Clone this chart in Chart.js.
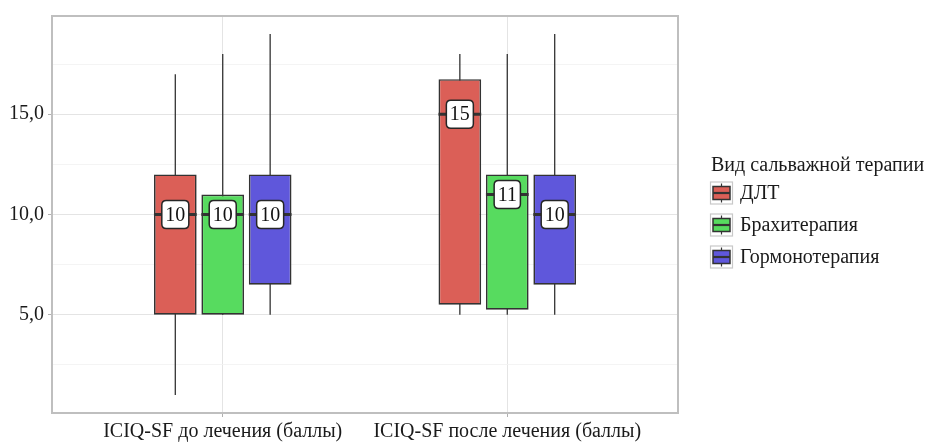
<!DOCTYPE html>
<html>
<head>
<meta charset="utf-8">
<script src="https://cdn.jsdelivr.net/npm/chart.js@4/dist/chart.umd.min.js"></script>
<style>
  html, body { margin: 0; padding: 0; background: #ffffff; }
  #wrap { width: 926px; height: 442px; position: relative; }
</style>
</head>
<body>
<div id="wrap"><canvas id="chart"></canvas></div>
<script>
// Categories (x positions 1 and 2 on a linear axis)
const categories = ['ICIQ-SF до лечения (баллы)', 'ICIQ-SF после лечения (баллы)'];
const groupNames = ['ДЛТ', 'Брахитерапия', 'Гормонотерапия'];
const groupColors = ['#DB5F57', '#57DB5F', '#5F57DB'];

// Box-plot statistics per therapy, one entry per category
const dltMin    = [1, 5];
const dltQ1     = [5, 5.5];
const dltMedian = [10, 15];
const dltQ3     = [12, 16.75];
const dltMax    = [17, 18];

const brachyMin    = [5, 5];
const brachyQ1     = [5, 5.25];
const brachyMedian = [10, 11];
const brachyQ3     = [11, 12];
const brachyMax    = [18, 18];

const hormoneMin    = [5, 5];
const hormoneQ1     = [6.5, 6.5];
const hormoneMedian = [10, 10];
const hormoneQ3     = [12, 12];
const hormoneMax    = [19, 19];

const yMajorTicks = [5, 10, 15];
const yMinorTicks = [2.5, 7.5, 12.5, 17.5];

const stats = [
  { min: dltMin, q1: dltQ1, med: dltMedian, q3: dltQ3, max: dltMax },
  { min: brachyMin, q1: brachyQ1, med: brachyMedian, q3: brachyQ3, max: brachyMax },
  { min: hormoneMin, q1: hormoneQ1, med: hormoneMedian, q3: hormoneQ3, max: hormoneMax }
];

const FONT = "'Liberation Serif', 'DejaVu Serif', serif";
const INK = '#333333';

const datasets = stats.map((s, d) => ({
  label: groupNames[d],
  data: categories.map((c, i) => ({ x: i + 1, y: [s.q1[i], s.q3[i]] })),
  backgroundColor: groupColors[d],
  borderColor: INK,
  borderWidth: 1.7,
  borderSkipped: false,
  categoryPercentage: 0.5,
  barPercentage: 0.9
}));

// Whiskers behind the boxes
const whiskerPlugin = {
  id: 'whiskers',
  beforeDatasetsDraw(chart) {
    const ctx = chart.ctx;
    const y = chart.scales.y;
    ctx.save();
    ctx.strokeStyle = INK;
    ctx.lineWidth = 1.3;
    stats.forEach((s, d) => {
      const meta = chart.getDatasetMeta(d);
      meta.data.forEach((el, i) => {
        ctx.beginPath();
        ctx.moveTo(el.x, y.getPixelForValue(s.min[i]));
        ctx.lineTo(el.x, y.getPixelForValue(s.max[i]));
        ctx.stroke();
      });
    });
    ctx.restore();
  }
};

function roundRect(ctx, x, y, w, h, r) {
  ctx.beginPath();
  ctx.moveTo(x + r, y);
  ctx.lineTo(x + w - r, y);
  ctx.quadraticCurveTo(x + w, y, x + w, y + r);
  ctx.lineTo(x + w, y + h - r);
  ctx.quadraticCurveTo(x + w, y + h, x + w - r, y + h);
  ctx.lineTo(x + r, y + h);
  ctx.quadraticCurveTo(x, y + h, x, y + h - r);
  ctx.lineTo(x, y + r);
  ctx.quadraticCurveTo(x, y, x + r, y);
  ctx.closePath();
}

// Median lines and median value labels over the boxes
const medianPlugin = {
  id: 'medians',
  afterDatasetsDraw(chart) {
    const ctx = chart.ctx;
    const y = chart.scales.y;
    ctx.save();
    stats.forEach((s, d) => {
      const meta = chart.getDatasetMeta(d);
      meta.data.forEach((el, i) => {
        const py = y.getPixelForValue(s.med[i]);
        ctx.strokeStyle = INK;
        ctx.lineWidth = 3;
        ctx.beginPath();
        ctx.moveTo(el.x - el.width / 2, py);
        ctx.lineTo(el.x + el.width / 2, py);
        ctx.stroke();

        const txt = String(s.med[i]);
        ctx.font = '20px ' + FONT;
        const tw = ctx.measureText(txt).width;
        const w = tw + 7, h = 28;
        roundRect(ctx, el.x - w / 2, py - h / 2, w, h, 4.5);
        ctx.fillStyle = '#ffffff';
        ctx.fill();
        ctx.lineWidth = 1.5;
        ctx.strokeStyle = '#262626';
        ctx.stroke();
        ctx.fillStyle = '#111111';
        ctx.textAlign = 'center';
        ctx.textBaseline = 'middle';
        ctx.fillText(txt, el.x, py + 1);
      });
    });
    ctx.restore();
  }
};

// Panel border and the legend on the right
const framePlugin = {
  id: 'frame',
  afterDraw(chart) {
    const ctx = chart.ctx;
    const a = chart.chartArea;
    ctx.save();
    ctx.strokeStyle = '#bfbfbf';
    ctx.lineWidth = 2;
    ctx.strokeRect(a.left, a.top, a.right - a.left, a.bottom - a.top);

    const lx = a.right + 32;
    ctx.font = '20px ' + FONT;
    ctx.fillStyle = '#1a1a1a';
    ctx.textAlign = 'left';
    ctx.textBaseline = 'middle';
    ctx.fillText('Вид сальважной терапии', lx + 1, 166);
    groupNames.forEach((name, d) => {
      const cy = 193 + d * 32;
      const kx = lx, ks = 23;
      ctx.fillStyle = '#ffffff';
      ctx.fillRect(kx, cy - ks / 2, ks, ks);
      ctx.strokeStyle = '#c8c8c8';
      ctx.lineWidth = 1.2;
      ctx.strokeRect(kx + 0.5, cy - ks / 2 + 0.5, ks - 1, ks - 1);
      // glyph: whisker, box, median
      ctx.strokeStyle = INK;
      ctx.lineWidth = 1.2;
      ctx.beginPath();
      ctx.moveTo(kx + ks / 2, cy - ks / 2 + 2);
      ctx.lineTo(kx + ks / 2, cy + ks / 2 - 2);
      ctx.stroke();
      ctx.fillStyle = groupColors[d];
      ctx.fillRect(kx + 3, cy - 6.5, ks - 6, 13);
      ctx.lineWidth = 1.5;
      ctx.strokeRect(kx + 3, cy - 6.5, ks - 6, 13);
      ctx.lineWidth = 2.2;
      ctx.beginPath();
      ctx.moveTo(kx + 3, cy);
      ctx.lineTo(kx + ks - 3, cy);
      ctx.stroke();
      ctx.fillStyle = '#1a1a1a';
      ctx.fillText(name, kx + ks + 7, cy + 1);
    });
    ctx.restore();
  }
};

new Chart(document.getElementById('chart'), {
  type: 'bar',
  data: { datasets },
  plugins: [whiskerPlugin, medianPlugin, framePlugin],
  options: {
    responsive: true,
    maintainAspectRatio: false,
    animation: false,
    layout: { padding: { top: 15, right: 248, left: 0, bottom: 0 } },
    plugins: { legend: { display: false }, tooltip: { enabled: false } },
    scales: {
      x: {
        type: 'linear',
        min: 0.4,
        max: 2.6,
        offset: false,
        afterBuildTicks(scale) { scale.ticks = categories.map((c, i) => ({ value: i + 1 })); },
        afterFit(scale) { scale.height = 29; },
        ticks: {
          callback: (v) => categories[v - 1],
          font: { family: FONT, size: 20 },
          color: '#1a1a1a',
          padding: 3,
          maxRotation: 0,
          autoSkip: false
        },
        grid: { offset: false, color: '#e4e4e4', lineWidth: 1, tickLength: 4, tickColor: '#b0b0b0' },
        border: { display: false }
      },
      y: {
        type: 'linear',
        min: 0.1,
        max: 19.9,
        afterBuildTicks(scale) {
          scale.ticks = yMajorTicks.concat(yMinorTicks).sort((a, b) => a - b).map(v => ({ value: v }));
        },
        afterFit(scale) { scale.width = 52; },
        ticks: {
          callback: (v) => yMajorTicks.includes(v) ? v.toFixed(1).replace('.', ',') : '',
          font: { family: FONT, size: 20 },
          color: '#1a1a1a',
          padding: 4
        },
        grid: {
          color: (c) => yMajorTicks.includes(c.tick.value) ? '#e4e4e4' : '#f1f1f1',
          lineWidth: (c) => yMajorTicks.includes(c.tick.value) ? 1 : 0.8,
          tickLength: 4,
          tickColor: (c) => yMajorTicks.includes(c.tick.value) ? '#b0b0b0' : 'rgba(0,0,0,0)'
        },
        border: { display: false }
      }
    }
  }
});
</script>
</body>
</html>
